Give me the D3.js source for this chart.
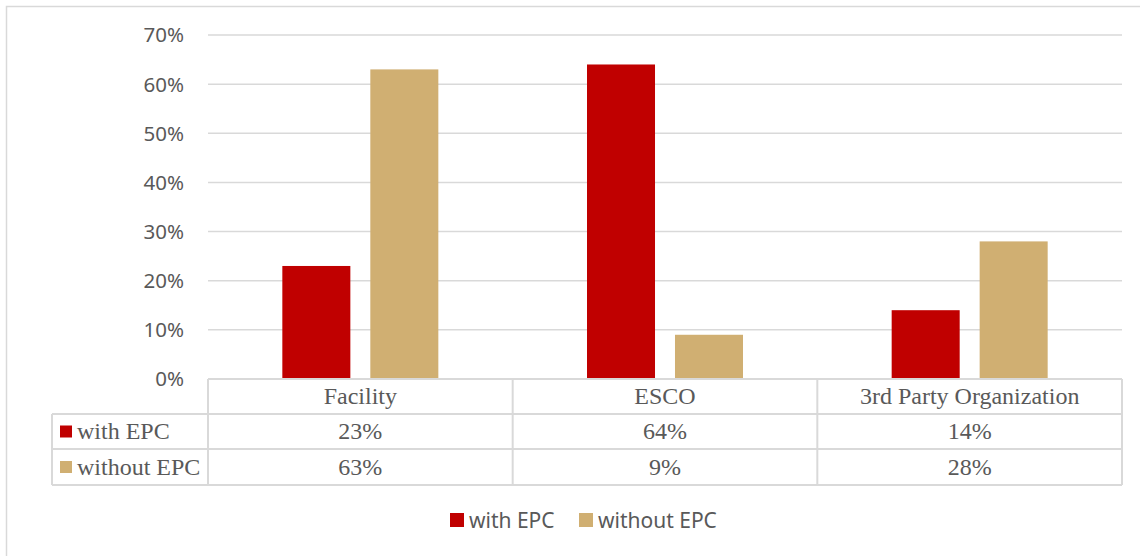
<!DOCTYPE html>
<html lang="en">
<head>
<meta charset="UTF-8">
<title>EPC chart</title>
<script src="https://cdn.jsdelivr.net/npm/d3@7"></script>
<style>
    body { margin: 0; background: #fff; }
    .tick-label { font-family: 'Noto Sans', sans-serif; font-size: 20.5px; fill: #595959; }
    .cell-text { font-family: 'Liberation Serif', 'Times New Roman', serif; font-size: 24px; fill: #595959; }
    .legend-text { font-family: 'Noto Sans', sans-serif; font-size: 21px; fill: #595959; }
</style>
</head>
<body>
<svg id="chart" width="1140" height="556"></svg>
<script>
    const categories = ["Facility", "ESCO", "3rd Party Organization"];
    const seriesNames = ["with EPC", "without EPC"];
    const withEPC = [0.23, 0.64, 0.14];
    const withoutEPC = [0.63, 0.09, 0.28];
    const yTicks = [0, 0.1, 0.2, 0.3, 0.4, 0.5, 0.6, 0.7];
    const colors = ["#C00000", "#D0AF72"];

    const seriesValues = [withEPC, withoutEPC];
    const gridColor = "#d9d9d9";
    const pct = d3.format(".0%");

    const svg = d3.select("#chart");

    // outer frame (runs off the right/bottom edge like the reference)
    svg.append("rect")
        .attr("x", 6.5).attr("y", 6.5)
        .attr("width", 1200).attr("height", 600)
        .attr("fill", "none")
        .attr("stroke", gridColor)
        .attr("stroke-width", 1.5);

    const plotLeft = 208, plotRight = 1122;
    const y = d3.scaleLinear().domain([0, 0.7]).range([379, 35]);
    const x0 = d3.scaleBand().domain(categories).range([plotLeft, plotRight]);
    const groupW = 156;
    const x1 = d3.scaleBand().domain(seriesNames).range([0, groupW]).paddingInner(0.227);

    // gridlines
    svg.append("g").selectAll("line")
        .data(yTicks.filter(d => d > 0))
        .enter().append("line")
        .attr("x1", plotLeft).attr("x2", plotRight)
        .attr("y1", d => y(d)).attr("y2", d => y(d))
        .attr("stroke", gridColor)
        .attr("stroke-width", 1.5);

    // y axis labels
    svg.append("g").selectAll("text")
        .data(yTicks)
        .enter().append("text")
        .attr("class", "tick-label")
        .attr("x", 184)
        .attr("y", d => y(d))
        .attr("dy", "0.36em")
        .attr("text-anchor", "end")
        .text(d => pct(d));

    // bars
    const groups = svg.append("g").selectAll("g")
        .data(categories)
        .enter().append("g")
        .attr("transform", d => `translate(${x0(d) + (x0.bandwidth() - groupW) / 2},0)`);

    groups.selectAll("rect")
        .data((d, i) => seriesNames.map((s, j) => ({ s, j, v: seriesValues[j][i] })))
        .enter().append("rect")
        .attr("x", d => x1(d.s))
        .attr("width", x1.bandwidth())
        .attr("y", d => y(d.v))
        .attr("height", d => y(0) - y(d.v))
        .attr("fill", d => colors[d.j]);

    // data table
    const rowTops = [379, 414, 449, 485];
    const tableLeft = 52;
    const table = svg.append("g");
    const line = (x1_, y1_, x2_, y2_) => table.append("line")
        .attr("x1", x1_).attr("y1", y1_).attr("x2", x2_).attr("y2", y2_)
        .attr("stroke", gridColor).attr("stroke-width", 2);

    line(plotLeft, rowTops[0], plotRight, rowTops[0]);
    line(tableLeft, rowTops[1], plotRight, rowTops[1]);
    line(tableLeft, rowTops[2], plotRight, rowTops[2]);
    line(tableLeft, rowTops[3], plotRight, rowTops[3]);
    line(tableLeft, rowTops[1], tableLeft, rowTops[3]);
    categories.forEach(c => line(x0(c), rowTops[0], x0(c), rowTops[3]));
    line(plotRight, rowTops[0], plotRight, rowTops[3]);

    // header row
    table.selectAll(".hdr")
        .data(categories)
        .enter().append("text")
        .attr("class", "cell-text")
        .attr("x", d => x0(d) + x0.bandwidth() / 2)
        .attr("y", (rowTops[0] + rowTops[1]) / 2)
        .attr("dy", "0.33em")
        .attr("text-anchor", "middle")
        .text(d => d);

    // series rows
    seriesNames.forEach((s, j) => {
        const cy = (rowTops[j + 1] + rowTops[j + 2]) / 2;
        table.append("rect")
            .attr("x", 60).attr("y", cy - 6)
            .attr("width", 12).attr("height", 12)
            .attr("fill", colors[j]);
        table.append("text")
            .attr("class", "cell-text")
            .attr("x", 77).attr("y", cy)
            .attr("dy", "0.33em")
            .text(s);
        table.selectAll(null)
            .data(categories)
            .enter().append("text")
            .attr("class", "cell-text")
            .attr("x", d => x0(d) + x0.bandwidth() / 2)
            .attr("y", cy)
            .attr("dy", "0.33em")
            .attr("text-anchor", "middle")
            .text((d, i) => pct(seriesValues[j][i]));
    });

    // bottom legend
    const legendX = [450, 579];
    const legend = svg.append("g");
    seriesNames.forEach((s, j) => {
        legend.append("rect")
            .attr("x", legendX[j]).attr("y", 513)
            .attr("width", 14).attr("height", 14)
            .attr("fill", colors[j]);
        legend.append("text")
            .attr("class", "legend-text")
            .attr("x", legendX[j] + 19).attr("y", 520)
            .attr("dy", "0.36em")
            .text(s);
    });
</script>
</body>
</html>
